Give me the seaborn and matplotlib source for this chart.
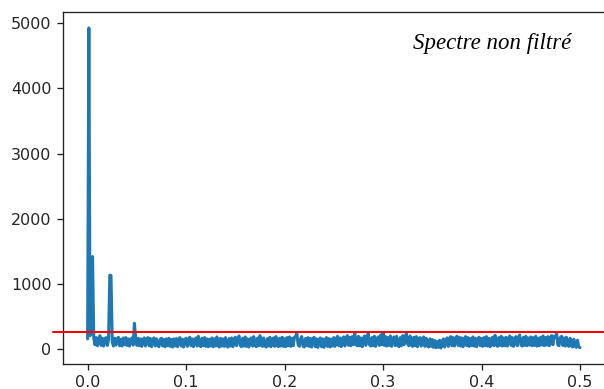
import numpy as np
import pandas as pd
import matplotlib
matplotlib.use("Agg")
import matplotlib.pyplot as plt
import matplotlib.transforms as mtransforms
import seaborn as sns

# Normalised frequency axis of the one-sided spectrum (800-sample signal)
freq = np.fft.rfftfreq(800)

# Magnitude of the unfiltered spectrum, one value per frequency bin
spectrum = [
    150, 4930, 200, 230, 1415, 160, 60, 170, 45, 150, 200, 50, 160, 40, 150, 170, 50, 140, 1130, 1125,
    110, 40, 160, 55, 150, 175, 45, 145, 40, 165, 60, 170, 50, 150, 40, 140, 165, 55, 390, 170,
    50, 160, 45, 150, 35, 140, 165, 40, 150, 170, 45, 155, 30, 140, 165, 40, 150, 55, 30, 145,
    160, 40, 140, 30, 150, 45, 160, 35, 140, 25, 150, 40, 155, 30, 140, 170, 40, 145, 25, 135,
    160, 35, 145, 175, 45, 150, 30, 140, 165, 40, 190, 50, 30, 160, 45, 170, 35, 150, 30, 145,
    40, 165, 30, 150, 40, 180, 50, 25, 160, 40, 150, 35, 170, 45, 25, 155, 40, 165, 30, 145,
    175, 45, 155, 195, 50, 30, 160, 40, 180, 35, 150, 25, 140, 165, 40, 185, 50, 30, 160, 45,
    200, 55, 35, 165, 45, 25, 155, 40, 175, 30, 145, 165, 35, 185, 50, 30, 160, 40, 175, 35,
    150, 30, 170, 45, 180, 35, 160, 45, 175, 190, 235, 60, 35, 150, 185, 40, 25, 155, 45, 170,
    35, 160, 25, 145, 175, 30, 150, 20, 140, 165, 30, 150, 20, 135, 170, 35, 155, 25, 145, 40,
    170, 35, 155, 190, 45, 165, 30, 150, 180, 40, 160, 200, 50, 175, 45, 185, 60, 240, 70, 45,
    190, 45, 165, 30, 150, 195, 50, 175, 235, 60, 40, 170, 45, 190, 35, 155, 180, 50, 210, 60,
    240, 50, 185, 40, 170, 50, 195, 35, 160, 180, 45, 190, 55, 30, 170, 45, 200, 60, 185, 230,
    70, 45, 195, 55, 35, 175, 45, 185, 30, 155, 170, 40, 150, 180, 35, 160, 45, 25, 150, 35,
    140, 20, 125, 15, 110, 20, 130, 10, 105, 150, 25, 130, 165, 35, 155, 185, 45, 170, 40, 160,
    190, 50, 175, 40, 165, 30, 150, 185, 45, 170, 35, 155, 45, 180, 40, 160, 30, 145, 175, 45,
    155, 35, 170, 45, 185, 40, 160, 30, 145, 175, 45, 205, 55, 35, 170, 50, 190, 40, 165, 45,
    175, 40, 155, 195, 50, 170, 35, 160, 185, 45, 170, 210, 60, 40, 175, 50, 190, 45, 165, 55,
    180, 45, 170, 50, 190, 40, 160, 45, 175, 55, 195, 45, 170, 55, 185, 45, 165, 200, 60, 190,
    170, 240, 60, 45, 170, 190, 50, 165, 40, 175, 55, 35, 160, 45, 25, 145, 40, 20, 130, 25,
    15,
]

# Filtering threshold
threshold = 250
label = "Spectre non filtré"

df = pd.DataFrame({"freq": freq, "amp": spectrum})

sns.set_style("ticks")
plt.rcParams.update({
    "font.family": ["DejaVu Sans"],
    "axes.edgecolor": "#222222",
    "axes.linewidth": 0.95,
    "xtick.color": "#222222",
    "ytick.color": "#222222",
    "xtick.labelcolor": "#262626",
    "ytick.labelcolor": "#262626",
    "xtick.major.size": 4.1,
    "ytick.major.size": 4.1,
    "xtick.major.width": 0.95,
    "ytick.major.width": 0.95,
    "xtick.major.pad": 4.1,
    "ytick.major.pad": 4.1,
    "xtick.labelsize": 11.5,
    "ytick.labelsize": 11.5,
    "axes.spines.right": True,
    "axes.spines.top": True,
})

fig = plt.figure(figsize=(6.04, 3.89), dpi=100)
ax = fig.add_axes([63 / 604, 25 / 389, 541.6 / 604, 352 / 389])

sns.lineplot(data=df, x="freq", y="amp", ax=ax, color="#1f77b4",
             linewidth=2.2, estimator=None, sort=False)
ax.set_xlabel("")
ax.set_ylabel("")
ax.set_xticks([0.0, 0.1, 0.2, 0.3, 0.4, 0.5])
ax.set_yticks([0, 1000, 2000, 3000, 4000, 5000])

# Threshold line, running past the left spine to the edge of the figure
trans = mtransforms.blended_transform_factory(ax.transAxes, ax.transData)
ax.plot([-0.0185, 1.0], [threshold, threshold], color="#ff0000",
        linewidth=1.45, transform=trans, clip_on=False, zorder=5)

fig.text(413 / 604, 1 - 48.5 / 389, label, family=["Liberation Serif"],
         style="italic", fontsize=16.5, color="black", ha="left", va="baseline")

fig.savefig("out.png", dpi=100)
